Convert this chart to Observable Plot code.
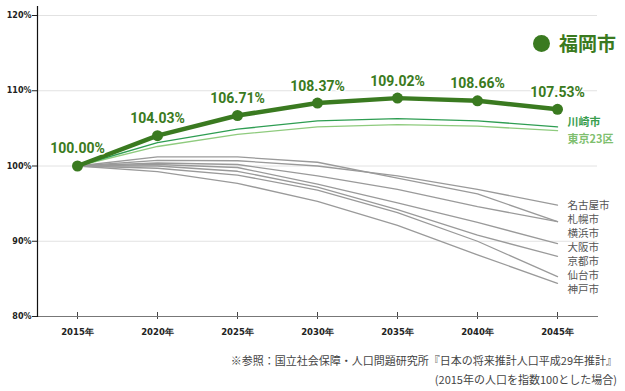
<!DOCTYPE html>
<html>
<head>
<meta charset="utf-8">
<script src="https://cdn.jsdelivr.net/npm/d3@7"></script>
<script src="https://cdn.jsdelivr.net/npm/@observablehq/plot@0.6"></script>
<style>
  body { margin: 0; background: #fff; }
  #wrap { position: relative; width: 625px; font-family: "Noto Sans CJK JP", "Noto Sans", sans-serif; }
  #legend { position: absolute; left: 533px; top: 30px; display: flex; align-items: center; color: #3a7a20; font-weight: 700; font-size: 19px; line-height: 26px; }
  #legend .dot { width: 17px; height: 17px; border-radius: 50%; background: #3a7a20; margin-right: 9px; }
  #caption { text-align: right; padding-right: 8px; font-size: 11px; color: #444; line-height: 19px; margin-top: 6px; }
  g[aria-label="y-axis tick label"] text, g[aria-label="x-axis tick label"] text { font-family: "DejaVu Sans", sans-serif; font-weight: bold; }
  g[aria-label="x-axis tick"] { transform: translate(0.5px, -4px); }
</style>
</head>
<body>
<div id="wrap">
  <div id="chart"></div>
  <div id="legend"><span class="dot"></span><span>福岡市</span></div>
  <div id="caption">※参照：国立社会保障・人口問題研究所『日本の将来推計人口平成29年推計』<br>(2015年の人口を指数100とした場合)</div>
</div>
<script>
const years = [2015, 2020, 2025, 2030, 2035, 2040, 2045];
const yTicks = [80, 90, 100, 110, 120];

const fukuoka  = [100.00, 104.03, 106.71, 108.37, 109.02, 108.66, 107.53];
const kawasaki = [100, 103.1, 104.9, 106.0, 106.3, 106.0, 105.2];
const tokyo23  = [100, 102.6, 104.2, 105.2, 105.5, 105.3, 104.7];

const grayCities = ["名古屋市", "札幌市", "横浜市", "大阪市", "京都市", "仙台市", "神戸市"];
const nagoya   = [100, 100.75, 100.7, 100.0, 98.7, 96.9, 94.8];
const sapporo  = [100, 101.2, 101.2, 100.5, 98.4, 96.3, 92.6];
const yokohama = [100, 100.4, 100.2, 98.7, 96.9, 94.6, 92.6];
const osaka    = [100, 100.2, 99.8, 97.6, 95.1, 92.5, 89.7];
const kyoto    = [100, 100.0, 99.3, 97.2, 94.2, 90.8, 88.0];
const sendai   = [100, 99.7, 98.8, 96.8, 93.8, 90.0, 85.3];
const kobe     = [100, 99.25, 97.7, 95.3, 92.1, 88.2, 84.4];
const grayValues = [nagoya, sapporo, yokohama, osaka, kyoto, sendai, kobe];

const toRows = (name, vals) => years.map((year, i) => ({name, year, value: vals[i]}));
const fukRows = toRows("福岡市", fukuoka);
const kawRows = toRows("川崎市", kawasaki);
const tokRows = toRows("東京23区", tokyo23);
const grayRows = grayCities.flatMap((c, k) => toRows(c, grayValues[k]));

const lastYear = years[years.length - 1];
const topGrayEnd = d3.max(grayValues, v => v[v.length - 1]);

const grayLabelMarks = grayCities.map((c, i) =>
  Plot.text([c], {x: () => lastYear, y: () => topGrayEnd, text: d => d, dx: 10, dy: i * 14,
    textAnchor: "start", fill: "#555", fontSize: 10.5, fontFamily: "Noto Sans CJK JP", letterSpacing: 1.3 })
);

const green = "#3a7a20";

const chart = Plot.plot({
  width: 625,
  height: 345,
  marginLeft: 37,
  marginRight: 28,
  marginTop: 15,
  marginBottom: 29,
  x: {type: "linear", domain: [2012.5, 2047.5]},
  y: {domain: [80, 120]},
  style: {background: "#fff", overflow: "visible"},
  marks: [
    Plot.gridY(yTicks.filter(t => t > 80), {stroke: "#e2e2e2", strokeOpacity: 1, strokeWidth: 1}),
    Plot.axisY({ticks: yTicks, tickFormat: d => d + "%", tickSize: 5, tickPadding: 1, fontSize: 8, fill: "#222", stroke: "#222", label: null}),
    Plot.axisX({ticks: years, tickFormat: d => d + "年", tickSize: 7, tickPadding: 5, fontSize: 8.5, fill: "#222", stroke: "#444", label: null}),
    Plot.frame({anchor: "bottom", stroke: "#777"}),
    Plot.frame({anchor: "left", stroke: "#111", strokeWidth: 1.2, insetTop: -9}),
    Plot.line(grayRows, {x: "year", y: "value", z: "name", stroke: "#9a9a9a", strokeWidth: 1.3}),
    Plot.line(tokRows, {x: "year", y: "value", stroke: "#8fcb7e", strokeWidth: 1.4}),
    Plot.line(kawRows, {x: "year", y: "value", stroke: "#2e9d52", strokeWidth: 1.4}),
    Plot.line(fukRows, {x: "year", y: "value", stroke: green, strokeWidth: 4.5}),
    Plot.dot(fukRows, {x: "year", y: "value", r: 5.5, fill: green}),
    Plot.text(fukRows, {x: "year", y: "value", text: d => d.value.toFixed(2) + "%", dy: -17,
      fill: green, fontSize: 14, fontWeight: 700, fontFamily: "Roboto", stroke: "white", strokeWidth: 3, paintOrder: "stroke"}),
    Plot.text(kawRows.slice(-1), {x: "year", y: "value", text: "name", dx: 10, dy: -4, textAnchor: "start",
      fill: "#3a9e4f", fontSize: 11, fontWeight: 700, fontFamily: "Noto Sans CJK JP", letterSpacing: 1}),
    Plot.text(tokRows.slice(-1), {x: "year", y: "value", text: "name", dx: 10, dy: 9, textAnchor: "start",
      fill: "#7fbf6f", fontSize: 11, fontWeight: 700, fontFamily: "Noto Sans CJK JP", letterSpacing: 1}),
    ...grayLabelMarks
  ]
});
document.getElementById("chart").appendChild(chart);
</script>
</body>
</html>
